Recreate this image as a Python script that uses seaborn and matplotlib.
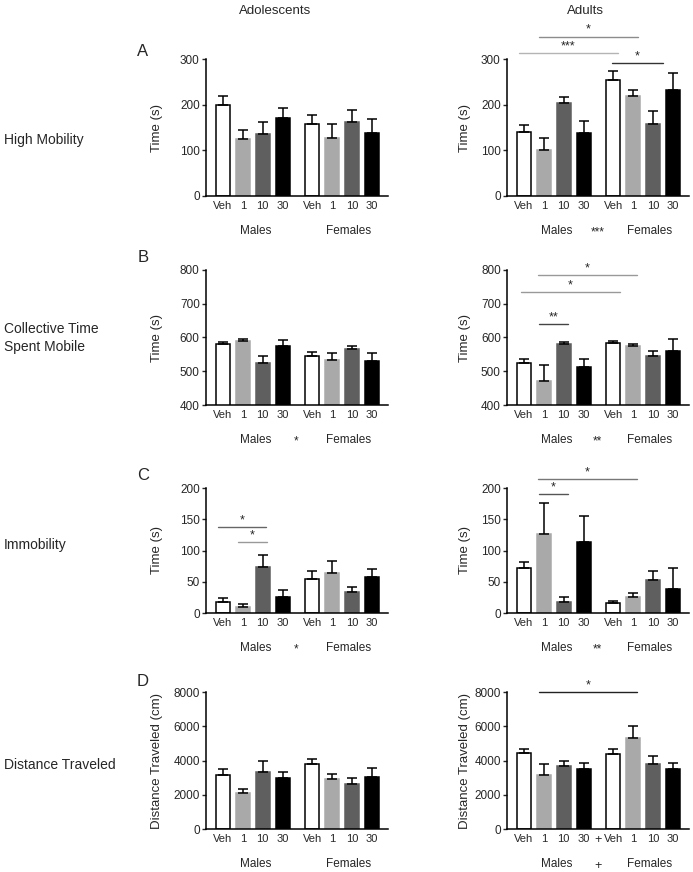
import numpy as np
import pandas as pd
import matplotlib
matplotlib.use('Agg')
import matplotlib.pyplot as plt
import seaborn as sns

sns.set_style("ticks")
plt.rcParams['font.family'] = ['Liberation Sans', 'DejaVu Sans']

# groups (same order in every panel)
doses = ['Veh', '1', '10', '30', 'Veh', '1', '10', '30']
sexes = ['Males'] * 4 + ['Females'] * 4
dose_order = ['Veh', '1', '10', '30']
dose_colors = ['#ffffff', '#a9a9a9', '#5f5f5f', '#000000']

# A - high mobility, time (s)
adol_mobility_mean = [200, 125, 136, 170, 158, 128, 161, 137]
adol_mobility_sem = [20, 19, 25, 23, 19, 30, 27, 31]
adult_mobility_mean = [141, 101, 204, 138, 255, 218, 158, 232]
adult_mobility_sem = [15, 26, 12, 27, 18, 15, 29, 37]

# B - collective time spent mobile, time (s)
adol_mobile_mean = [580, 589, 524, 575, 544, 533, 566, 530]
adol_mobile_sem = [8, 7, 22, 17, 12, 20, 9, 25]
adult_mobile_mean = [525, 470, 580, 513, 584, 574, 544, 560]
adult_mobile_sem = [10, 49, 8, 22, 5, 7, 16, 36]

# C - immobility, time (s)
adol_immob_mean = [18, 9.5, 74, 26, 55, 64, 33, 57]
adol_immob_sem = [6, 4.5, 19, 11, 13, 19, 8, 14]
adult_immob_mean = [72, 126, 17, 113, 16, 25, 53, 39]
adult_immob_sem = [10, 50, 8, 42, 4, 7, 14, 33]

# D - distance traveled (cm)
adol_dist_mean = [3150, 2080, 3350, 2950, 3800, 2900, 2650, 3050]
adol_dist_sem = [350, 250, 600, 350, 280, 330, 350, 500]
adult_dist_mean = [4430, 3165, 3650, 3515, 4390, 5300, 3790, 3515]
adult_dist_sem = [270, 635, 330, 365, 270, 720, 480, 365]

# pairwise comparisons: (x from, x to, y, label, line colour)
adult_mobility_sig = [(0.75, 5.73, 349, '*', '#8c8c8c'),
                      (-0.25, 4.72, 313, '***', '#b4b4b4'),
                      (4.42, 6.98, 291, '*', '#333333')]
adult_mobile_sig = [(0.7, 5.68, 784, '*', '#999999'),
                    (-0.15, 4.82, 734, '*', '#999999'),
                    (0.75, 2.2, 641, '**', '#444444')]
adol_immob_sig = [(-0.25, 2.18, 137, '*', '#666666'),
                  (0.74, 2.23, 113, '*', '#999999')]
adult_immob_sig = [(0.7, 5.68, 214, '*', '#777777'),
                   (0.75, 2.2, 190, '*', '#555555')]
adult_dist_sig = [(0.75, 5.68, 8000, '*', '#222222')]

W, H = 693, 872


def add_axes(fig, left, top, width, bottom):
    return fig.add_axes([left / W, 1 - bottom / H, width / W, (bottom - top) / H])


def draw_panel(ax, means, sems, ylim, yticks, ylabel, label_x, sig=(), sex_mark='', plus=False):
    df = pd.DataFrame({'dose': doses, 'sex': sexes, 'mean': means, 'sem': sems})
    df['pos'] = np.arange(len(df)) + np.where(df['sex'] == 'Females', 0.5, 0.0)

    sns.barplot(data=df, x='pos', y='mean', hue='dose', hue_order=dose_order,
                palette=dose_colors, native_scale=True, dodge=False, width=0.7,
                errorbar=None, legend=False, linewidth=1.1, ax=ax)
    for p in ax.patches:
        fc = p.get_facecolor()
        if fc[0] > 0.95:
            p.set_edgecolor('black')
        else:
            p.set_edgecolor(fc)
    ax.errorbar(df['pos'], df['mean'], yerr=[np.zeros(len(df)), df['sem']],
                fmt='none', ecolor='black', elinewidth=1.1, capsize=3.5,
                capthick=1.1, zorder=5)

    ax.set_xlim(-0.85, 8.3)
    ax.set_ylim(*ylim)
    ax.set_yticks(yticks)
    ax.set_xticks(df['pos'], df['dose'])
    ax.tick_params(axis='x', length=0, pad=3.5, labelsize=8)
    ax.tick_params(axis='y', length=3, width=1, pad=1.5, labelsize=8.5)
    ax.set_xlabel('')
    ax.set_ylabel(ylabel, fontsize=9.5)
    ax.yaxis.set_label_coords(label_x, 0.5)
    sns.despine(ax=ax)
    for s in ['left', 'bottom']:
        ax.spines[s].set_linewidth(1.1)
        ax.spines[s].set_color('black')

    # Males / Females row under the dose labels
    for x, txt in [(1.65, 'Males'), (6.3, 'Females')]:
        ax.annotate(txt, xy=(x, 0), xycoords=('data', 'axes fraction'),
                    xytext=(0, -25), textcoords='offset points',
                    ha='center', va='center', fontsize=8.5)
    if sex_mark:
        ax.annotate(sex_mark, xy=(3.7, 0), xycoords=('data', 'axes fraction'),
                    xytext=(0, -26), textcoords='offset points',
                    ha='center', va='center', fontsize=8.5)
    if plus:
        ax.annotate('+', xy=(3.75, 0), xycoords=('data', 'axes fraction'),
                    xytext=(0, -3.5), textcoords='offset points',
                    ha='center', va='top', fontsize=9)
        ax.annotate('+', xy=(3.75, 0), xycoords=('data', 'axes fraction'),
                    xytext=(0, -26.5), textcoords='offset points',
                    ha='center', va='center', fontsize=9)

    for x0, x1, y, label, color in sig:
        ax.plot([x0, x1], [y, y], color=color, lw=1, clip_on=False)
        ax.annotate(label, xy=((x0 + x1) / 2, y), xytext=(0, 0.5),
                    textcoords='offset points', ha='center', va='bottom',
                    fontsize=9, annotation_clip=False)


fig = plt.figure(figsize=(W / 100, H / 100), dpi=100)

rows = [(59, 196), (270, 405), (488, 613), (692, 829)]
adol_left, adult_left, ax_w = 206, 507, 182

panels = [
    (adol_mobility_mean, adol_mobility_sem, adult_mobility_mean, adult_mobility_sem,
     (0, 300), [0, 100, 200, 300], 'Time (s)', [], adult_mobility_sig, '', '***', False),
    (adol_mobile_mean, adol_mobile_sem, adult_mobile_mean, adult_mobile_sem,
     (400, 800), [400, 500, 600, 700, 800], 'Time (s)', [], adult_mobile_sig, '*', '**', False),
    (adol_immob_mean, adol_immob_sem, adult_immob_mean, adult_immob_sem,
     (0, 200), [0, 50, 100, 150, 200], 'Time (s)', adol_immob_sig, adult_immob_sig, '*', '**', False),
    (adol_dist_mean, adol_dist_sem, adult_dist_mean, adult_dist_sem,
     (0, 8000), [0, 2000, 4000, 6000, 8000], 'Distance Traveled (cm)', [], adult_dist_sig, '', '', True),
]

for (top, bottom), p in zip(rows, panels):
    (m1, s1, m2, s2, ylim, yt, ylab, sig1, sig2, mark1, mark2, plus) = p
    ax1 = add_axes(fig, adol_left, top, ax_w, bottom)
    draw_panel(ax1, m1, s1, ylim, yt, ylab, -0.236, sig1, mark1)
    ax2 = add_axes(fig, adult_left, top, ax_w, bottom)
    draw_panel(ax2, m2, s2, ylim, yt, ylab, -0.198, sig2, mark2, plus)

# column titles
fig.text(275 / W, 1 - 11 / H, 'Adolescents', ha='center', va='center', fontsize=9.5)
fig.text(585 / W, 1 - 11 / H, 'Adults', ha='center', va='center', fontsize=9.5)

# panel letters
for letter, y in [('A', 52), ('B', 258), ('C', 476), ('D', 681)]:
    fig.text(143 / W, 1 - y / H, letter, ha='center', va='center', fontsize=12)

# row labels
for label, y in [('High Mobility', 140), ('Collective Time\nSpent Mobile', 338),
                 ('Immobility', 545), ('Distance Traveled', 765)]:
    fig.text(4 / W, 1 - y / H, label, ha='left', va='center', fontsize=10,
             linespacing=1.3)

fig.savefig('out.png', dpi=100)
plt.close(fig)
